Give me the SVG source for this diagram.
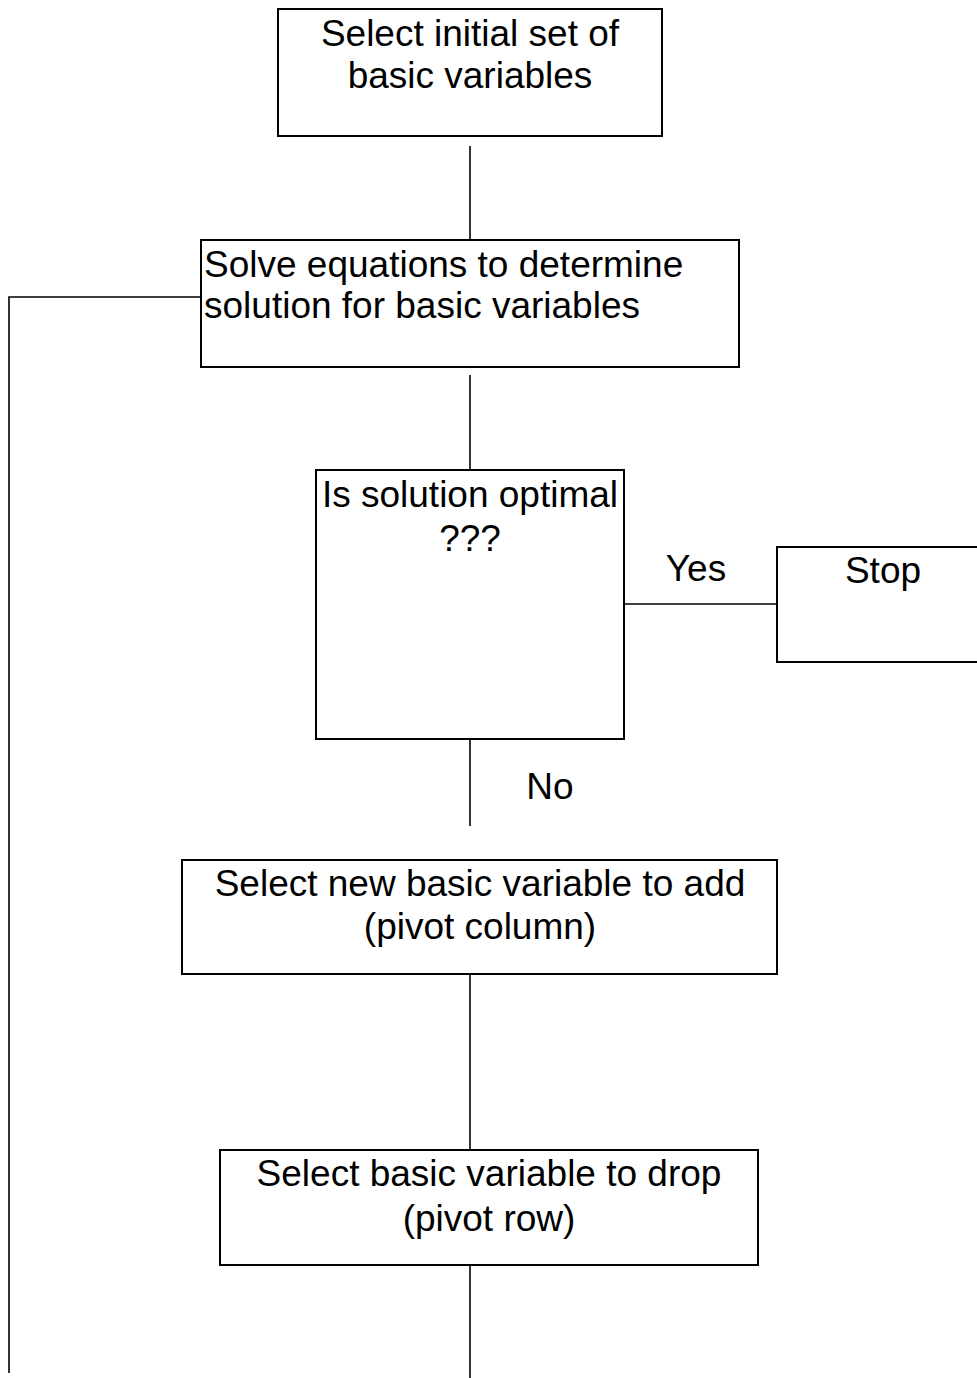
<svg xmlns="http://www.w3.org/2000/svg" width="977" height="1378" viewBox="0 0 977 1378">
<style>
.box{fill:#fff;stroke:#000;stroke-width:2}
.ln{fill:none;stroke:#000;stroke-width:1.6}
text{font-family:"Liberation Sans",Arial,sans-serif;font-size:37px;fill:#000}
.c{text-anchor:middle}
</style>
<rect width="977" height="1378" fill="#fff"/>
<g id="connectors">
<line class="ln" x1="470" y1="146" x2="470" y2="240"/>
<polyline class="ln" points="201,297 9,297 9,1373"/>
<line class="ln" x1="470" y1="375" x2="470" y2="470"/>
<line class="ln" x1="624" y1="604" x2="777" y2="604"/>
<line class="ln" x1="470" y1="739" x2="470" y2="826"/>
<line class="ln" x1="470" y1="975" x2="470" y2="1150"/>
<line class="ln" x1="470" y1="1265" x2="470" y2="1378"/>
<text class="c" x="696" y="581">Yes</text>
<text class="c" x="550" y="799">No</text>
</g>
<g id="n1">
<rect class="box" x="278" y="9" width="384" height="127"/>
<text class="c" x="470" y="46">Select initial set of</text>
<text class="c" x="470" y="88">basic variables</text>
</g>
<g id="n2">
<rect class="box" x="201" y="240" width="538" height="127"/>
<text x="204" y="277">Solve equations to determine</text>
<text x="204" y="318">solution for basic variables</text>
</g>
<g id="n3">
<rect class="box" x="316" y="470" width="308" height="269"/>
<text class="c" x="470" y="507">Is solution optimal</text>
<text class="c" x="470" y="551">???</text>
</g>
<g id="n4">
<rect class="box" x="777" y="547" width="210" height="115"/>
<text class="c" x="883" y="583">Stop</text>
</g>
<g id="n5">
<rect class="box" x="182" y="860" width="595" height="114"/>
<text class="c" x="480" y="896">Select new basic variable to add</text>
<text class="c" x="480" y="939">(pivot column)</text>
</g>
<g id="n6">
<rect class="box" x="220" y="1150" width="538" height="115"/>
<text class="c" x="489" y="1186">Select basic variable to drop</text>
<text class="c" x="489" y="1231">(pivot row)</text>
</g>
</svg>
